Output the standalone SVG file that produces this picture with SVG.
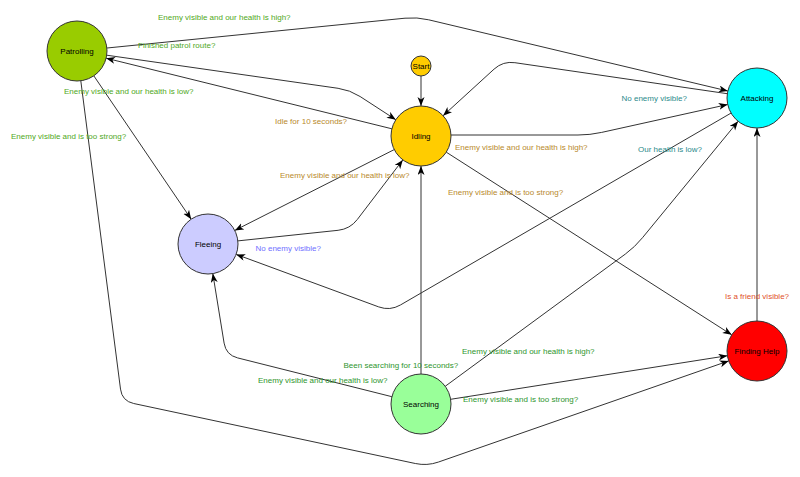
<svg xmlns="http://www.w3.org/2000/svg" width="800" height="477" viewBox="0 0 800 477">
<style>
.node circle{stroke:#333;stroke-width:1}
.node text{font-family:"Liberation Sans",Arial,sans-serif;font-size:8px;fill:#000;text-anchor:middle;dominant-baseline:central}
.edge{fill:none;stroke:#333;stroke-width:1;marker-end:url(#arr)}
.lbl{font-family:"Liberation Sans",Arial,sans-serif;font-size:8px}
.gP{fill:#4fa823}
.gI{fill:#b8892c}
.gA{fill:#2b8a8a}
.gF{fill:#7070ff}
.gS{fill:#2e952e}
.gH{fill:#e0502a}
</style>
<defs>
<marker id="arr" markerUnits="userSpaceOnUse" markerWidth="10" markerHeight="8" refX="9" refY="3.5" orient="auto">
<path d="M0,0 L9,3.5 L0,7 L2.5,3.5 z" fill="#000"/>
</marker>
</defs>
<rect width="800" height="477" fill="#fff"/>
<g id="connectors">
<path class="edge" d="M421,76 L421,106"/>
<path class="edge" d="M107,48 L405,18.2 Q417,17 428.7,19.8 L727.8,91"/>
<path class="edge" d="M727.3,93.7 L514.9,62.7 Q503,61 494.1,69.1 L443.1,115.7"/>
<path class="edge" d="M106.7,55.2 L338.1,88.3 Q350,90 360.1,96.5 L395.8,119.7"/>
<path class="edge" d="M391.9,128.8 L106.1,58.2"/>
<path class="edge" d="M93.8,75.8 L191.2,219.2"/>
<path class="edge" d="M80.8,80.8 L120.5,389.1 Q122,401 133.7,403.5 L415.3,463.5 Q427,466 438.3,462.1 L728.7,360.9"/>
<path class="edge" d="M451,135 L578,135 Q590,135 601.7,132.4 L727.7,104.5"/>
<path class="edge" d="M394.2,149.6 L234.8,230.4"/>
<path class="edge" d="M237.8,240.9 L338.1,230.3 Q350,229 357.3,219.5 L402.8,159.9"/>
<path class="edge" d="M446.3,152.2 L731.7,334.8"/>
<path class="edge" d="M731,113.1 L400.4,305 Q390,311 378.7,306.9 L236.2,254.4"/>
<path class="edge" d="M445.2,386.3 L625.3,254.1 Q635,247 642.5,237.7 L738.1,121.3"/>
<path class="edge" d="M450.6,399.3 L727.4,355.7"/>
<path class="edge" d="M421,374 L421,166"/>
<path class="edge" d="M391.9,396.7 L237.6,357.9 Q226,355 224.1,343.1 L212.8,273.6"/>
<path class="edge" d="M757,321 L757,128"/>
<text class="lbl gP" x="158" y="20">Enemy visible and our health is high?</text>
<text class="lbl gP" x="138" y="48">Finished patrol route?</text>
<text class="lbl gP" x="64" y="93.5">Enemy visible and our health is low?</text>
<text class="lbl gP" x="11" y="139">Enemy visible and is too strong?</text>
<text class="lbl gI" x="275" y="124">Idle for 10 seconds?</text>
<text class="lbl gI" x="455" y="149.5">Enemy visible and our health is high?</text>
<text class="lbl gI" x="448" y="194.5">Enemy visible and is too strong?</text>
<text class="lbl gI" x="280" y="178">Enemy visible and our health is low?</text>
<text class="lbl gF" x="255.5" y="251">No enemy visible?</text>
<text class="lbl gA" x="621.5" y="100.5">No enemy visible?</text>
<text class="lbl gA" x="638" y="152">Our health is low?</text>
<text class="lbl gH" x="725" y="298.5">Is a friend visible?</text>
<text class="lbl gS" x="343.5" y="368">Been searching for 10 seconds?</text>
<text class="lbl gS" x="258" y="383">Enemy visible and our health is low?</text>
<text class="lbl gS" x="462" y="353.5">Enemy visible and our health is high?</text>
<text class="lbl gS" x="463" y="402">Enemy visible and is too strong?</text>
</g>
<g id="node-start" class="node"><circle cx="421" cy="66" r="10" fill="#ffcc00"/><text x="421" y="66.5">Start</text></g>
<g id="node-patrolling" class="node"><circle cx="77" cy="51" r="30" fill="#99cc00"/><text x="77" y="51.5">Patrolling</text></g>
<g id="node-idling" class="node"><circle cx="421" cy="136" r="30" fill="#ffcc00"/><text x="421" y="136.5">Idling</text></g>
<g id="node-attacking" class="node"><circle cx="757" cy="98" r="30" fill="#00ffff"/><text x="757" y="98.5">Attacking</text></g>
<g id="node-fleeing" class="node"><circle cx="208" cy="244" r="30" fill="#ccccff"/><text x="208" y="244.5">Fleeing</text></g>
<g id="node-searching" class="node"><circle cx="421" cy="404" r="30" fill="#99ff99"/><text x="421" y="404.5">Searching</text></g>
<g id="node-findinghelp" class="node"><circle cx="757" cy="351" r="30" fill="#ff0000"/><text x="757" y="351.5">Finding Help</text></g>
</svg>
